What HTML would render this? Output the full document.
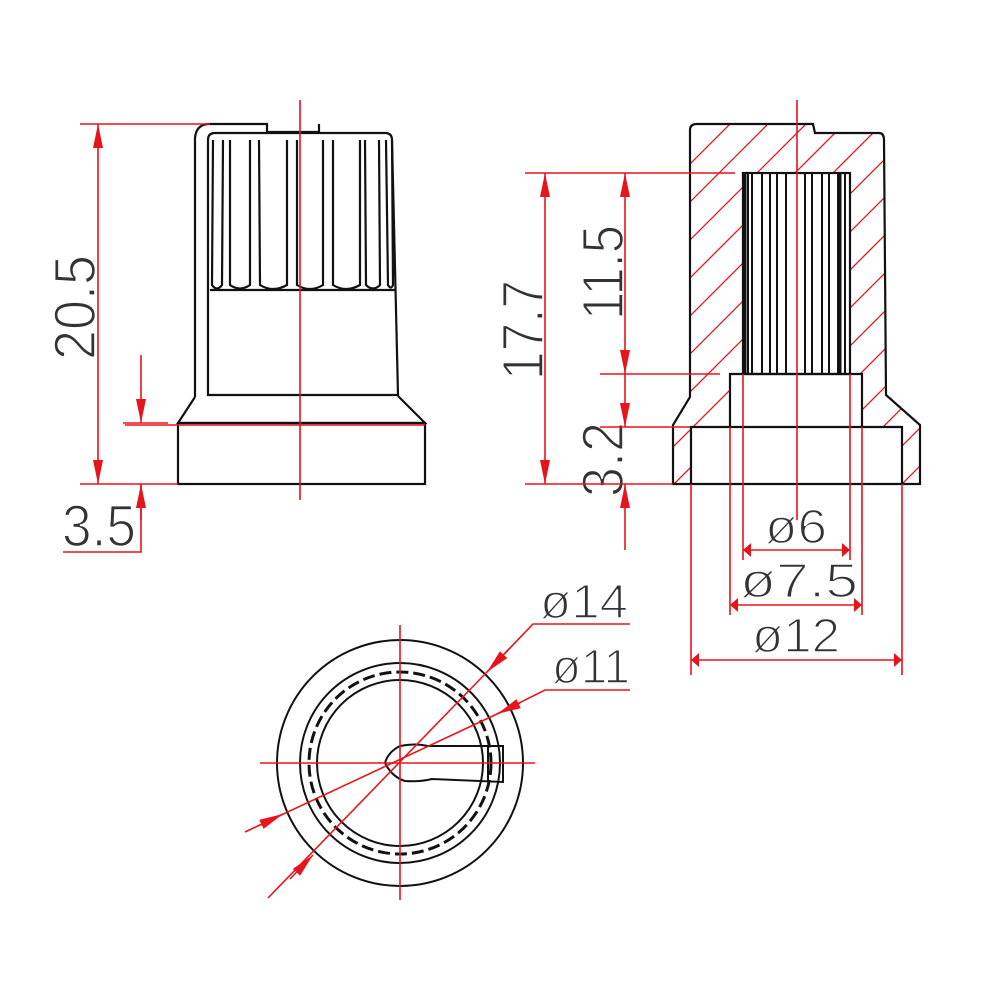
<!DOCTYPE html>
<html><head><meta charset="utf-8"><style>html,body{margin:0;padding:0;background:#fff}svg{display:block}</style></head><body>
<svg width="1000" height="1000" viewBox="0 0 1000 1000" xmlns="http://www.w3.org/2000/svg">
<defs>
<marker id="a" viewBox="0 0 10 10" refX="10" refY="5" markerWidth="8" markerHeight="14" markerUnits="userSpaceOnUse" orient="auto-start-reverse" preserveAspectRatio="none"><path d="M0,0 L10,5 L0,10 z" fill="#e8141c"/></marker>
<marker id="b" viewBox="0 0 10 10" refX="10" refY="5" markerWidth="24" markerHeight="10" markerUnits="userSpaceOnUse" orient="auto-start-reverse" preserveAspectRatio="none"><path d="M0,0 L10,5 L0,10 z" fill="#e8141c"/></marker>
<clipPath id="hc"><path clip-rule="evenodd" d="M690,130 Q690,124 697,124 L813,124 L815,133 L879,133 Q884,133 884,140 L886,395 L920,425 L920,484 L673,484 L673,425 L690,397 Z M691,427 L902,427 L902,484 L691,484 Z M730,374 L862,374 L862,428 L730,428 Z M743,173 L850,173 L850,375 L743,375 Z"/></clipPath>
</defs>
<g font-family="'Liberation Sans',sans-serif" fill="#333" stroke="#fff" stroke-width="1.6" font-size="58">
<text transform="translate(95,360) rotate(-90)" textLength="105" lengthAdjust="spacingAndGlyphs">20.5</text>
<text x="62" y="546" textLength="74" lengthAdjust="spacingAndGlyphs">3.5</text>
<text transform="translate(543,380) rotate(-90)" textLength="100" lengthAdjust="spacingAndGlyphs">17.7</text>
<text transform="translate(623,320) rotate(-90)" textLength="95" lengthAdjust="spacingAndGlyphs">11.5</text>
<text transform="translate(623,497) rotate(-90)" textLength="75" lengthAdjust="spacingAndGlyphs">3.2</text>
<text x="765" y="543" font-size="48" textLength="62" lengthAdjust="spacingAndGlyphs">ø6</text>
<text x="740" y="597" font-size="48" textLength="118" lengthAdjust="spacingAndGlyphs">ø7.5</text>
<text x="752" y="652" font-size="48" textLength="88" lengthAdjust="spacingAndGlyphs">ø12</text>
<text x="540" y="618" font-size="48" textLength="88" lengthAdjust="spacingAndGlyphs">ø14</text>
<text x="552" y="683" font-size="48" textLength="78" lengthAdjust="spacingAndGlyphs">ø11</text>
</g>
<g fill="none" stroke="#111" stroke-width="2.2">
<path d="M195,397 L195,138 Q196,125 208,124 L267,124 L267,132 L319,132 L319,124"/>
<path d="M208,395 L208,140 Q208,133 215,133 L385,133 Q392,133 392,140 L398,395 Z"/>
<path d="M195,397 L178,423 L425,423 L398,396"/>
<rect x="178" y="423" width="247" height="61"/>
<path d="M213,140 L212,285 Q217,292 222,285 L223,140"/>
<path d="M230,140 L230,285 Q240,292 250,285 L250,140"/>
<path d="M259,140 L260,285 Q273,293 287,285 L287,140"/>
<path d="M297,140 L297,285 Q310,293 323,285 L323,140"/>
<path d="M333,140 L333,285 Q346,293 360,285 L360,140"/>
<path d="M365,140 L366,285 Q373,292 380,285 L379,140"/>
<path d="M386,140 L388,285 Q391,290 393,285 L392,140"/>
<path d="M210,290 L396,290"/>
</g>
<g clip-path="url(#hc)" stroke="#e8141c" stroke-width="1.3">
<path d="M560,560 L1000,120 M598,560 L1038,120 M636,560 L1076,120 M674,560 L1114,120 M712,560 L1152,120 M522,560 L962,120 M484,560 L924,120 M446,560 L886,120 M408,560 L848,120 M370,560 L810,120 M332,560 L772,120 M294,560 L734,120 M750,560 L1190,120 M788,560 L1228,120 M826,560 L1266,120"/>
</g>
<g fill="none" stroke="#111" stroke-width="2.2">
<path d="M690,130 Q690,124 697,124 L813,124 L815,133 L879,133 Q884,133 884,140 L886,395 L920,425 L920,484 L673,484 L673,425 L690,397 Z"/>
<path d="M691,484 L691,427 L902,427 L902,484"/>
<path d="M730,427 L730,374 L862,374 L862,427"/>
<rect x="743" y="173" width="107" height="201"/>
<path d="M748,173V374 M752,173V374 M762,173V374 M770,173V374 M777,173V374 M786,173V374 M805,173V374 M812,173V374 M822,173V374 M829,173V374 M838,173V374 M845,173V374" stroke-width="2"/>
<path d="M745,173V374 M840,173V374" stroke-width="3"/>
</g>
<g fill="none" stroke="#111" stroke-width="2">
<circle cx="400" cy="763" r="123"/>
<circle cx="400" cy="763" r="100"/>
<circle cx="400" cy="763" r="91" stroke-dasharray="12 5" stroke-width="3"/>
<circle cx="400" cy="763" r="83"/>
<path d="M503,746 L428,746 Q415,743 400,746 Q388,752 385,763 Q392,777 405,781 Q420,782 432,779 L503,782 Z"/>
<path d="M488,746 L488,782"/>
</g>
<g stroke="#e8141c" stroke-width="1.6" fill="none">
<path d="M300,100 V500 M125,425 H425"/>
<path d="M80,124 H210 M80,484 H178 M123,423 H168 M63,552 H141 V484"/>
<path d="M98,124 V484" marker-start="url(#b)" marker-end="url(#b)"/>
<path d="M141,355 V423" marker-end="url(#b)"/>
<path d="M141,520 V484" marker-end="url(#b)"/>
<path d="M797,100 V520"/>
<path d="M525,173 H735 M525,484 H673 M600,374 H720 M600,427 H690"/>
<path d="M545,173 V484" marker-start="url(#b)" marker-end="url(#b)"/>
<path d="M625,173 V374" marker-start="url(#b)" marker-end="url(#b)"/>
<path d="M625,374 V427" marker-end="url(#b)"/>
<path d="M625,550 V484" marker-end="url(#b)"/>
<path d="M743,374 V560 M850,374 V560 M730,427 V615 M862,427 V615 M691,484 V675 M902,484 V675"/>
<path d="M743,550 H850" marker-start="url(#a)" marker-end="url(#a)"/>
<path d="M730,605 H862" marker-start="url(#a)" marker-end="url(#a)"/>
<path d="M691,660 H902" marker-start="url(#a)" marker-end="url(#a)"/>
<path d="M260,763 H535 M400,625 V900"/>
<path d="M630,624 H533 L487,672" />
<path d="M487,672 L510,648" marker-start="url(#b)"/>
<path d="M487,672 L268,898"/>
<path d="M313,855 L290,879" marker-start="url(#b)"/>
<path d="M630,690 H545 L497,714 L245,832"/>
<path d="M497,714 L520,703" marker-start="url(#b)"/>
<path d="M283,814 L258,826" marker-start="url(#b)"/>
</g>
</svg>
</body></html>
